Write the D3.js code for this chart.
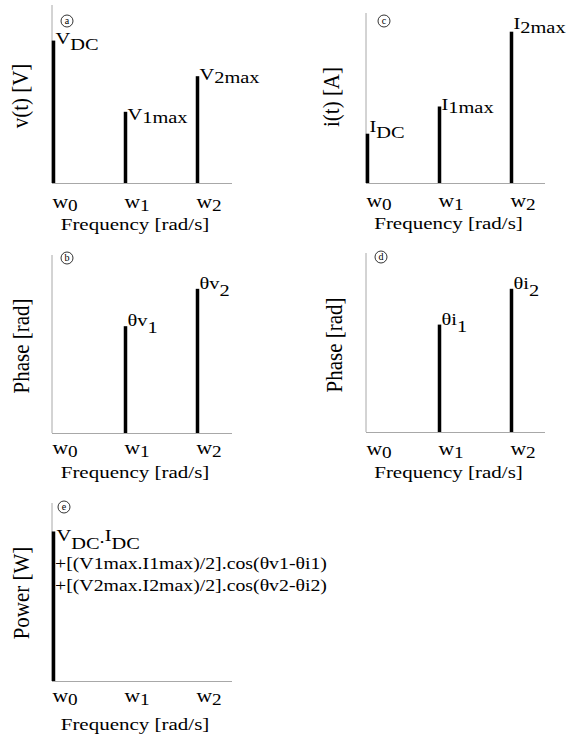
<!DOCTYPE html>
<html><head><meta charset="utf-8">
<script src="https://cdn.jsdelivr.net/npm/d3@7"></script>
<style>
body{margin:0;background:#fff}
svg{display:block}
text{font-family:"Liberation Serif","Times New Roman",serif;fill:#000}
</style>
</head><body>
<svg id="chart" width="566" height="738"></svg>
<script>
// ---------- data ----------
const categories = ["w0", "w1", "w2"];
const tickMain = ["w", "w", "w"];
const tickSub = ["0", "1", "2"];
const voltageMag = [0.80, 0.40, 0.60];
const currentMag = [0.29, 0.45, 0.89];
const voltagePhase = [0, 0.60, 0.81];
const currentPhase = [0, 0.60, 0.80];
const powerValue = [0.84, 0, 0];
const vMagMain = ["V", "V", "V"], vMagSub = ["DC", "1max", "2max"];
const iMagMain = ["I", "I", "I"], iMagSub = ["DC", "1max", "2max"];
const vPhMain = ["", "θv", "θv"], vPhSub = ["", "1", "2"];
const iPhMain = ["", "θi", "θi"], iPhSub = ["", "1", "2"];
const yTitles = ["v(t) [V]", "i(t) [A]", "Phase [rad]", "Phase [rad]", "Power [W]"];
const panelLetters = ["a", "c", "b", "d", "e"];
const xTitle = "Frequency [rad/s]";
const powerLines = ["+[(V1max.I1max)/2].cos(θv1-θi1)", "+[(V2max.I2max)/2].cos(θv2-θi2)"];

// ---------- layout ----------
const SX = 1.2; // horizontal text stretch of the original figure
const svg = d3.select("#chart");

const panels = [
  {vals: voltageMag, main: vMagMain, sub: vMagSub, ax: 52, top: 5, base: 183, len: 180,
   letter: [67, 21], yt: [27.5, 96], xt: [135, 230], tk: 25,
   lab: [[3, 6], [8, 3], [4, 3]]},
  {vals: currentMag, main: iMagMain, sub: iMagSub, ax: 366, top: 13, base: 183, len: 179,
   letter: [384, 21], yt: [339, 97], xt: [448.5, 229], tk: 24,
   lab: [[-2, 6], [3, 3], [-3, 4]]},
  {vals: voltagePhase, main: vPhMain, sub: vPhSub, ax: 52, top: 255, base: 433, len: 180,
   letter: [67, 258], yt: [28.5, 346], xt: [135, 478], tk: 21,
   lab: [[0, 7], [0, 7], [0, 7]]},
  {vals: currentPhase, main: iPhMain, sub: iPhSub, ax: 366, top: 253, base: 432, len: 179,
   letter: [381, 257], yt: [342, 345], xt: [448.5, 478], tk: 23,
   lab: [[0, 7], [0, 7], [0, 7]]},
  {vals: powerValue, main: null, sub: null, ax: 52, top: 503, base: 681, len: 180,
   letter: [64, 507], yt: [29, 593], xt: [135, 730], tk: 21, lab: null}
];

function htext(g, x, y, size, anchor) {
  return g.append("text")
    .attr("transform", `translate(${x},${y}) scale(${SX},1)`)
    .attr("font-size", size)
    .attr("text-anchor", anchor || "start");
}

panels.forEach((p, pi) => {
  const g = svg.append("g");
  const x = d3.scalePoint().domain(categories).range([p.ax + 1.5, p.ax + 145.5]);
  const y = d3.scaleLinear().domain([0, 1]).range([p.base, p.top]);

  // axes
  g.append("line").attr("x1", p.ax).attr("x2", p.ax).attr("y1", y(0)).attr("y2", y(1))
    .attr("stroke", "#a8a8a8").attr("stroke-width", 1);
  g.append("line").attr("x1", p.ax).attr("x2", p.ax + p.len).attr("y1", y(0) + 0.5).attr("y2", y(0) + 0.5)
    .attr("stroke", "#a8a8a8").attr("stroke-width", 1);

  // bars
  const data = categories.map((c, i) => ({c, i, v: p.vals[i]})).filter(d => d.v > 0);
  g.selectAll("rect.bar").data(data).join("rect").attr("class", "bar")
    .attr("x", d => x(d.c) - 1.75).attr("width", 3.5)
    .attr("y", d => y(d.v)).attr("height", d => y(0) - y(d.v))
    .attr("fill", "#000");

  // bar labels
  if (p.main) {
    data.forEach(d => {
      const off = p.lab[d.i];
      const t = htext(g, x(d.c) + 2, y(d.v) + off[0], 17);
      t.append("tspan").text(p.main[d.i]);
      t.append("tspan").attr("dy", off[1]).text(p.sub[d.i]);
    });
  }

  // tick labels
  categories.forEach((c, i) => {
    const t = htext(g, x(c) - 1, p.base + p.tk, 18);
    t.append("tspan").text(tickMain[i]);
    t.append("tspan").attr("dy", 3).attr("font-size", 16).text(tickSub[i]);
  });

  // x title
  htext(g, p.xt[0], p.xt[1], 17.5, "middle").text(xTitle);

  // y title
  g.append("text")
    .attr("transform", `translate(${p.yt[0]},${p.yt[1]}) rotate(-90) scale(1,1.1)`)
    .attr("font-size", 21).attr("text-anchor", "middle").text(yTitles[pi]);

  // circled panel letter
  g.append("circle").attr("cx", p.letter[0]).attr("cy", p.letter[1]).attr("r", 6)
    .attr("fill", "none").attr("stroke", "#000").attr("stroke-width", 0.8);
  g.append("text").attr("x", p.letter[0]).attr("y", p.letter[1] + 3.3)
    .attr("font-size", 10).attr("text-anchor", "middle").text(panelLetters[pi]);

  // power formula
  if (pi === 4) {
    const t1 = htext(g, x(categories[0]) + 3, y(p.vals[0]) + 10, 17);
    t1.append("tspan").text("V");
    t1.append("tspan").attr("dy", 8).text("DC");
    t1.append("tspan").attr("dy", -6).text(".");
    t1.append("tspan").attr("dy", -2).text("I");
    t1.append("tspan").attr("dy", 8).text("DC");
    powerLines.forEach((s, k) => {
      htext(g, x(categories[0]) + 1.5, y(p.vals[0]) + 38 + k * 22, 16.5).text(s);
    });
  }
});
</script>
</body></html>
